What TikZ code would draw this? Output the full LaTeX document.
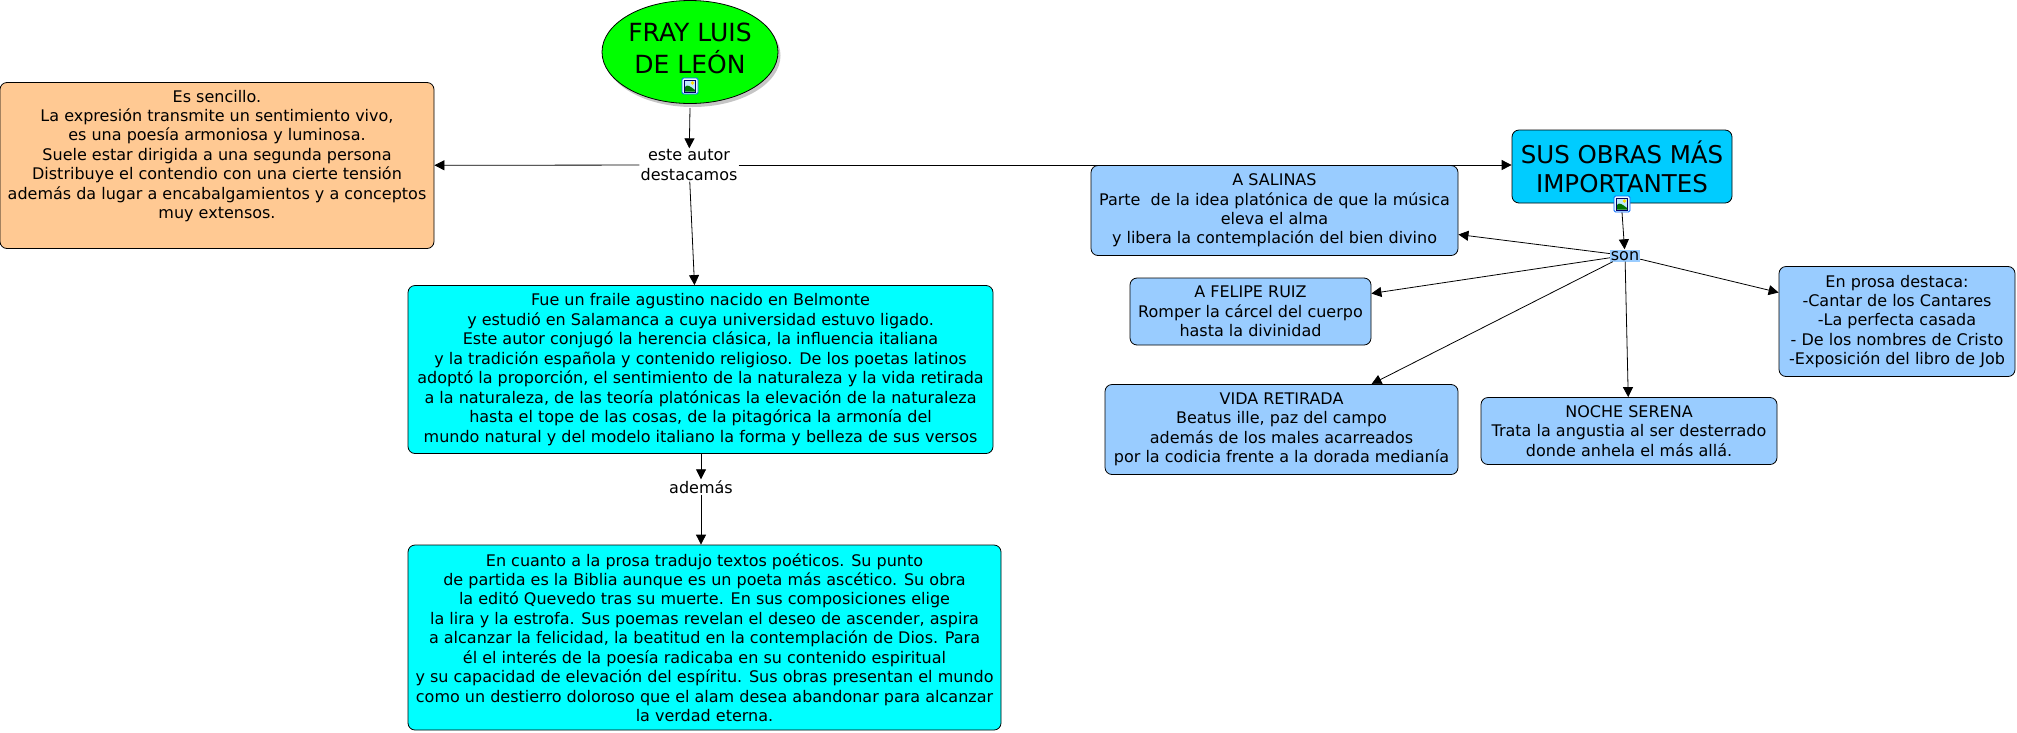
\documentclass[tikz,border=0pt]{standalone}
\usepackage{fontspec}
\setmainfont{DejaVu Sans}
\usetikzlibrary{shapes.geometric,shadows,arrows.meta}
\definecolor{orangebox}{HTML}{FFC993}
\definecolor{bluebox}{HTML}{99CCFF}
\definecolor{skybox}{HTML}{00CCFF}
\definecolor{cyanbox}{HTML}{00FFFF}
\definecolor{limebox}{HTML}{00FF00}
\begin{document}
\begin{tikzpicture}[x=1pt,y=-1pt]
        \tikzset{card/.style = {shape=rectangle,draw=black,rounded corners=7pt,line width=0.8pt,align=center,inner sep=0pt,font=\fontsize{16}{19.45}\selectfont}}
        \tikzset{cyancard/.style = {card,fill=cyanbox}}
        \tikzset{bluecard/.style = {card,fill=bluebox}}
        \tikzset{phrase/.style = {align=center,inner sep=1pt,fill=white,font=\fontsize{16}{19.45}\selectfont}}
        \tikzset{edge/.style = {-{Triangle[length=10pt,width=10pt]},line width=0.8pt}}
        \tikzset{photoicon/.pic = {
            \draw[rounded corners=1.5pt,draw=blue!60!cyan,fill=cyan!10,line width=0.8pt] (-8,-8) rectangle (8,8);
            \draw[draw=blue!40!black,fill=cyan!25,line width=0.8pt] (-5.5,-6) rectangle (5.5,6);
            \fill[yellow!80!orange] (2.5,-3) circle (1.8);
            \fill[green!45!black] (-5,5.6) -- (-5,1) .. controls (-3,-2) and (0,0) .. (5,4) -- (5,5.6) -- cycle;
        }}
        \useasboundingbox (0,0) rectangle (2017,732);
        % concepts
        \node[shape=ellipse,draw=black,fill=limebox,line width=0.8pt,minimum width=176pt,minimum height=103pt,inner sep=0pt,align=center,drop shadow={shadow xshift=2.5pt,shadow yshift=-3.5pt,fill=black!45},font=\fontsize{25}{28}\selectfont] (fray) at (690,52) {\raisebox{5pt}{\begin{tabular}{@{}c@{}}FRAY LUIS\hspace{10pt}\\ DE LEÓN\end{tabular}}};
        \node[card,fill=orangebox,minimum width=434pt,minimum height=166pt] (rasgos) at (217,165.5) {Es sencillo.\\La expresión transmite un sentimiento vivo,\\es una poesía armoniosa y luminosa.\\Suele estar dirigida a una segunda persona\\Distribuye el contendio con una cierte tensión\\además da lugar a encabalgamientos y a conceptos\\muy extensos.\\[3pt]\mbox{}};
        \node[cyancard,minimum width=585pt,minimum height=168pt] (vida) at (700.5,369.5) {Fue un fraile agustino nacido en Belmonte\\y estudió en Salamanca a cuya universidad estuvo ligado.\\Este autor conjugó la herencia clásica, la influencia italiana\\y la tradición española y contenido religioso. De los poetas latinos\\adoptó la proporción, el sentimiento de la naturaleza y la vida retirada\\a la naturaleza, de las teoría platónicas la elevación de la naturaleza\\hasta el tope de las cosas, de la pitagórica la armonía del\\mundo natural y del modelo italiano la forma y belleza de sus versos};
        \node[cyancard,minimum width=593pt,minimum height=185pt] (prosa) at (704.5,637.5) {En cuanto a la prosa tradujo textos poéticos. Su punto\\de partida es la Biblia aunque es un poeta más ascético. Su obra\\la editó Quevedo tras su muerte. En sus composiciones elige\\la lira y la estrofa. Sus poemas revelan el deseo de ascender, aspira\\a alcanzar la felicidad, la beatitud en la contemplación de Dios. Para\\él el interés de la poesía radicaba en su contenido espiritual\\y su capacidad de elevación del espíritu. Sus obras presentan el mundo\\como un destierro doloroso que el alam desea abandonar para alcanzar\\la verdad eterna.};
        \node[card,fill=skybox,minimum width=220pt,minimum height=73pt,font=\fontsize{24.5}{29}\selectfont] (obras) at (1622,166.5) {SUS OBRAS MÁS\\IMPORTANTES};
        \node[bluecard,minimum width=367pt,minimum height=90pt] (salinas) at (1274.5,210.5) {A SALINAS\\Parte~ de la idea platónica de que la música\\eleva el alma\\y libera la contemplación del bien divino};
        \node[bluecard,minimum width=241pt,minimum height=67pt] (felipe) at (1250.5,311.5) {A FELIPE RUIZ\\Romper la cárcel del cuerpo\\hasta la divinidad};
        \node[bluecard,minimum width=353pt,minimum height=90pt] (retirada) at (1281.5,429.5) {VIDA RETIRADA\\Beatus ille, paz del campo\\además de los males acarreados\\por la codicia frente a la dorada medianía};
        \node[bluecard,minimum width=296pt,minimum height=67pt] (noche) at (1629,431) {NOCHE SERENA\\Trata la angustia al ser desterrado\\donde anhela el más allá.};
        \node[bluecard,minimum width=236pt,minimum height=110pt] (otras) at (1897,321.5) {En prosa destaca:\\-Cantar de los Cantares\\-La perfecta casada\\- De los nombres de Cristo\\-Exposición del libro de Job};
        % linking phrases
        \node[phrase] (este) at (689,165) {este autor\\destacamos};
        \node[phrase] (ademas) at (701,487) {además};
        \node[phrase,fill=bluebox,inner sep=0pt,minimum width=30pt,minimum height=12pt,text height=9pt,text depth=0pt] (son) at (1625,255.5) {son};
        % icons
        \pic at (690,86) {photoicon};
        \pic at (1622,204) {photoicon};
        %edges
        \draw[edge] ([yshift=-4pt]fray.south) -- (este);
        \draw[edge] (este) -- (rasgos);
        \draw[edge] (este) -- (obras.west |- este);
        \draw[edge] (este) -- ([xshift=-6pt]vida.north);
        \draw[edge] ([xshift=0.5pt]vida.south) -- (ademas);
        \draw[edge] (ademas) -- ([xshift=-3.5pt]prosa.north);
        \draw[edge] ([yshift=-9pt]obras.south) -- (son);
        \draw[edge] (son) -- ([yshift=-24pt]salinas.east);
        \draw[edge] (son) -- ([yshift=18pt]felipe.east);
        \draw[edge] (son) -- ([xshift=90pt]retirada.north);
        \draw[edge] (son) -- (noche);
        \draw[edge] (son) -- ([yshift=29pt]otras.west);
\end{tikzpicture}
\end{document}
